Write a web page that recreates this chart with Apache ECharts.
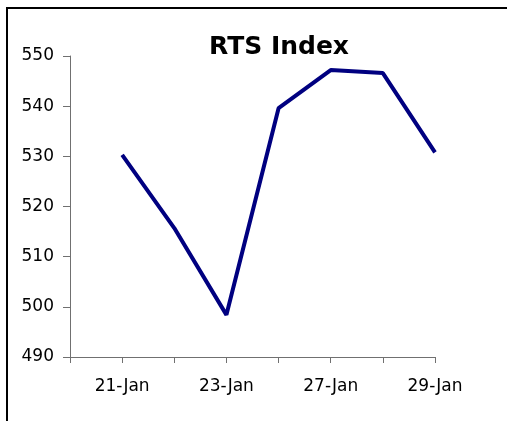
<!DOCTYPE html>
<html>
<head>
<meta charset="utf-8">
<script src="https://cdn.jsdelivr.net/npm/echarts@6/dist/echarts.min.js"></script>
<style>
  html, body { margin: 0; padding: 0; background: #fff; }
  #chart { width: 507px; height: 421px; }
</style>
</head>
<body>
<div id="chart"></div>
<script>
// trading days, first slot is empty (axis starts one day before data)
var days = ["20-Jan", "21-Jan", "22-Jan", "23-Jan", "26-Jan", "27-Jan", "28-Jan", "29-Jan"];
var rts = [null, 530.3, 515.7, 498.4, 539.6, 547.2, 546.6, 530.8];
var yTicks = { min: 490, max: 550, step: 10 };

var chart = echarts.init(document.getElementById("chart"));

chart.setOption({
  animation: false,
  backgroundColor: "#fff",
  title: {
    text: "RTS Index",
    left: 274,
    top: 30,
    textAlign: "center",
    textStyle: {
      fontFamily: "DejaVu Sans",
      fontWeight: "bold",
      fontSize: 25,
      color: "#000"
    }
  },
  graphic: [{
    type: "rect",
    shape: { x: 7, y: 8, width: 700, height: 700 },
    style: { fill: "none", stroke: "#000", lineWidth: 2 },
    silent: true
  }],
  grid: { left: 70, right: 72, top: 56, bottom: 64 },
  xAxis: {
    type: "category",
    data: days,
    boundaryGap: false,
    axisLine: { lineStyle: { color: "#707070", width: 1 } },
    axisTick: { interval: 0, length: 6, lineStyle: { color: "#707070" } },
    axisLabel: {
      interval: function (i) { return i % 2 === 1; },
      margin: 21,
      fontFamily: "DejaVu Sans",
      fontSize: 17,
      color: "#000"
    },
    splitLine: { show: false }
  },
  yAxis: {
    type: "value",
    min: yTicks.min,
    max: yTicks.max,
    interval: yTicks.step,
    axisLine: { show: true, lineStyle: { color: "#707070", width: 1 } },
    axisTick: { show: true, length: 7, lineStyle: { color: "#707070" } },
    axisLabel: {
      margin: 16,
      fontFamily: "DejaVu Sans",
      fontSize: 17,
      color: "#000"
    },
    splitLine: { show: false }
  },
  series: [{
    type: "line",
    data: rts,
    symbol: "none",
    connectNulls: false,
    lineStyle: { color: "#000080", width: 4 }
  }]
});
</script>
</body>
</html>
